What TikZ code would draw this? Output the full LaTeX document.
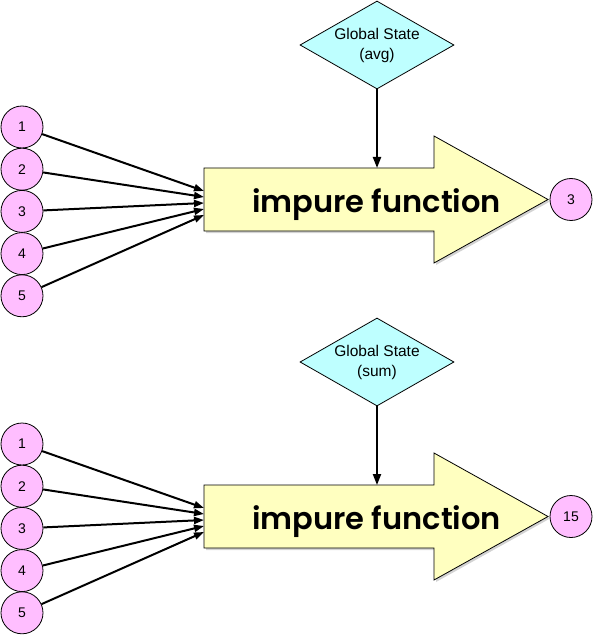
\documentclass[tikz,border=0pt]{standalone}
\usepackage{fontspec}
\setmainfont{Liberation Sans}
\newfontfamily\futura{Poppins SemiBold}
\usetikzlibrary{arrows.meta,shapes.geometric,shadows}
\definecolor{pinkfill}{RGB}{255,190,255}
\definecolor{cyanfill}{RGB}{190,255,255}
\definecolor{yellowfill}{RGB}{255,255,192}
\tikzset{
 num/.style={circle,draw=black,line width=0.8pt,fill=pinkfill,minimum size=42pt,inner sep=0pt,font=\fontsize{14}{16}\selectfont},
 gstate/.style={diamond,draw=black,line width=0.8pt,fill=cyanfill,minimum width=154pt,minimum height=88pt,aspect=1.75,inner sep=0pt,align=center,font=\fontsize{15.5}{20}\selectfont},
 bigarrow/.style={draw=black,line width=0.8pt,fill=yellowfill,drop shadow={opacity=0.35,shadow xshift=2pt,shadow yshift=-2pt}},
 feed/.style={line width=2pt,-{Triangle[length=10pt,width=7pt]}},
 down/.style={line width=2pt,-{Triangle[length=11pt,width=8pt]}},
 fnlabel/.style={font=\futura\fontsize{30.5}{36}\selectfont,inner sep=0pt},
}
\newcommand\drawgroup[4]{%
 \begin{scope}[yshift=-#4pt]
  \draw[bigarrow] (204,168) -- (434,168) -- (434,136) -- (548,199.5) -- (434,263) -- (434,231) -- (204,231) -- cycle;
  \node[fnlabel,anchor=base west] (fn#1) at (252,212) {impure function};
  \node[gstate] (gs#1) at (377,45) {Global State\\#2};
  \coordinate (top#1) at (377,168);
  \draw[down] (gs#1) -- (top#1);
  \node[num] (out#1) at (571,199.5) {#3};
  \foreach \i/\yy/\ty in {1/127/191,2/169.2/197,3/211.4/203,4/253.6/209,5/295.8/215}{
   \node[num] (n#1\i) at (22,\yy) {\i};
   \coordinate (t#1\i) at (204,\ty);
   \draw[feed] (n#1\i) -- (t#1\i);
  }
 \end{scope}
}
\begin{document}
\begin{tikzpicture}[x=1pt,y=-1pt]
 \useasboundingbox (0,0) rectangle (593,636);
 \drawgroup{a}{(avg)}{3}{0}
 \drawgroup{b}{(sum)}{15}{317}
\end{tikzpicture}
\end{document}
